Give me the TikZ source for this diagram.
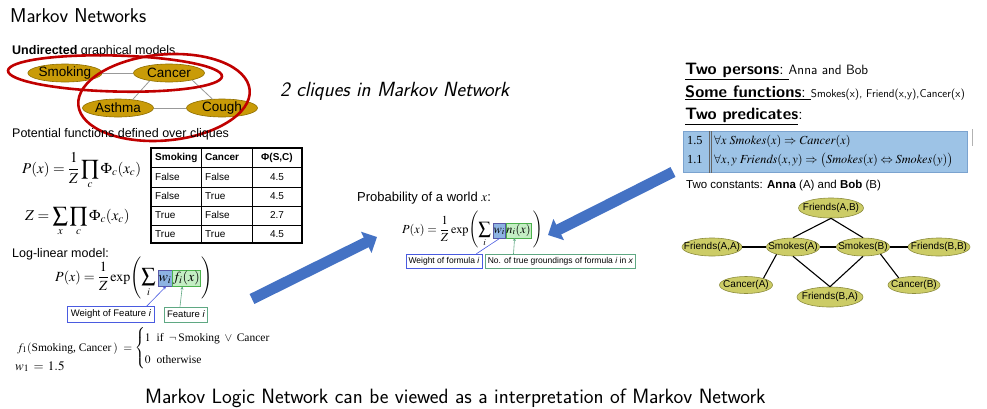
\documentclass[tikz,border=0pt]{standalone}
\usepackage{amsmath}
\usepackage{mathptmx}
\usepackage[no-math]{fontspec}
\setmainfont{Liberation Serif}
\newfontfamily\arial{Liberation Sans}
\usetikzlibrary{shapes.geometric,arrows.meta}

\newcommand\setfs[1]{\fontsize{#1}{#1}\selectfont}
\newcommand\zw[1]{\makebox[0pt]{#1}}

\definecolor{mgold}{HTML}{C99B08}
\definecolor{mgoldline}{HTML}{8E6E00}
\definecolor{cliquered}{HTML}{C00000}
\definecolor{folive}{HTML}{CCCC66}
\definecolor{foliveline}{HTML}{8C8C3C}
\definecolor{arrowblue}{HTML}{4472C4}
\definecolor{hlblue}{HTML}{8DB3E2}
\definecolor{hlgreen}{HTML}{C4EEC4}
\definecolor{labblue}{HTML}{4A5BE0}
\definecolor{labgreen}{HTML}{5FA883}
\definecolor{ruleblue}{HTML}{9DC3E6}
\definecolor{rulebluedark}{HTML}{7BA3CF}

\begin{document}
\begin{tikzpicture}[x=1pt,y=-1pt,
  txt/.style={anchor=base west, inner sep=0pt},
  mnnode/.style={ellipse, fill=mgold, draw=mgoldline, line width=0.6pt,
    minimum width=71pt, minimum height=18pt, inner sep=0pt, font=\arial\setfs{13.5}},
  mnedge/.style={draw=gray!80, line width=0.8pt},
  clique/.style={draw=cliquered, line width=2.6pt},
  fnode/.style={ellipse, fill=folive, draw=foliveline, line width=0.6pt,
    minimum height=18pt, inner sep=0pt, font=\arial\setfs{10}},
  mlnedge/.style={draw=black, line width=1.1pt},
  cell/.style={anchor=base west, inner sep=0pt, font=\arial\setfs{10}},
  hlw/.style={anchor=base west, fill=hlblue, draw=gray!70!blue, line width=0.4pt,
    inner xsep=0.6pt, inner ysep=0.8pt},
  hlf/.style={anchor=base west, fill=hlgreen, draw=gray!60!green, line width=0.4pt,
    inner xsep=0.6pt, inner ysep=0.8pt},
  wlab/.style={draw=labblue, line width=0.8pt, fill=white, inner xsep=3pt,
    minimum height=15pt, font=\arial\setfs{9.5}},
  flab/.style={draw=labgreen, line width=0.8pt, fill=white, inner xsep=3pt,
    minimum height=15pt, font=\arial\setfs{9.5}},
  wline/.style={draw=labblue, line width=0.6pt, -{Stealth[length=3pt,width=3pt]}},
  fline/.style={draw=labgreen, line width=0.6pt, -{Stealth[length=3pt,width=3pt]}},
  bigarrow/.style={draw=arrowblue, line width=11pt, -{Triangle[length=12pt,width=23pt]}},
  head/.style={anchor=base west, inner sep=0pt, font=\sffamily\setfs{16.5}}
]
\useasboundingbox (0,0) rectangle (987,408);

% ---------- Markov network ----------
\node[txt, font=\sffamily\setfs{20}] (title) at (10,22) {Markov Networks};
\node[txt, font=\arial\setfs{12.5}] (undir) at (12,54) {\textbf{Undirected} graphical models};

\node[mnnode] (smk) at (65,73) {Smoking};
\node[mnnode] (can) at (169,73) {Cancer};
\node[mnnode] (ast) at (118,108) {Asthma};
\node[mnnode] (cou) at (222,108) {Cough};
\draw[mnedge] (smk) -- (can);
\draw[mnedge] (can.202) -- (ast.30);
\draw[mnedge] (can.343) -- (cou.137);
\draw[mnedge] (ast) -- (cou);

\draw[clique, rotate around={-1.5:(115,73.5)}] (115,73.5) ellipse [x radius=107, y radius=18];
\draw[clique, rotate around={5:(164,97.5)}] (164,97.5) ellipse [x radius=86, y radius=43];

\node[txt, font=\sffamily\itshape\setfs{20.5}] (cliq) at (280,96) {2 cliques in Markov Network};

\node[txt, font=\arial\setfs{12.5}] (pot) at (12,137) {Potential functions defined over cliques};

\node[txt, font=\setfs{15}] (pfac) at (22,173) {$\displaystyle P(x)=\frac{1}{Z}\prod_c\Phi_c(x_c)$};
\node[txt, font=\setfs{15}] (zfac) at (25,220) {$\displaystyle Z=\sum_x\prod_c\Phi_c(x_c)$};

% potential table
\draw[line width=1.3pt] (151,148) rectangle (302,243);
\foreach \yy in {167,187,206,225} \draw[line width=0.8pt] (151,\yy) -- (302,\yy);
\foreach \xx in {201,252} \draw[line width=0.8pt] (\xx,148) -- (\xx,243);
\node[cell, font=\arial\bfseries\setfs{10}] (th1) at (155,160) {Smoking};
\node[cell, font=\arial\bfseries\setfs{10}] (th2) at (205,160) {Cancer};
\node[cell, font=\arial\bfseries\setfs{10}, anchor=base] (th3) at (277,160) {Φ(S,C)};
\node[cell] (a1) at (155,180) {False}; \node[cell] (b1) at (205,180) {False}; \node[cell, anchor=base] (c1) at (277,180) {4.5};
\node[cell] (a2) at (155,199) {False}; \node[cell] (b2) at (205,199) {True};  \node[cell, anchor=base] (c2) at (277,199) {4.5};
\node[cell] (a3) at (155,218) {True};  \node[cell] (b3) at (205,218) {False}; \node[cell, anchor=base] (c3) at (277,218) {2.7};
\node[cell] (a4) at (155,237) {True};  \node[cell] (b4) at (205,237) {True};  \node[cell, anchor=base] (c4) at (277,237) {4.5};

% log-linear model
\node[txt, font=\arial\setfs{12.5}] (loglin) at (12,257) {Log-linear model:};
\node[txt, font=\setfs{14}] (ll) at (55,281) {$\displaystyle P(x)=\frac{1}{Z}\exp\!\left(\sum_i\right.$};
\node[hlw, font=\setfs{14}, text height=10pt, text depth=4.5pt, xshift=0.5pt] (llw) at (ll.base east) {$w_i$};
\node[hlf, font=\setfs{14}, text height=10pt, text depth=4.5pt] (llf) at (llw.base east) {$f_i(x)$};
\node[txt, font=\setfs{14}] (llr) at (llf.base east) {$\displaystyle\left.\vphantom{\sum_i}\right)$};
\node[wlab] (llwl) at (111,314.5) {Weight of Feature \textit{i}};
\node[flab] (llfl) at (186,314.5) {Feature \textit{i}};
\draw[wline] ([xshift=-8pt]llwl.north east) -- ([xshift=1pt]llw.south);
\draw[fline] ([xshift=-6pt]llfl.north) -- ([xshift=-4pt]llf.south);

\node[txt, font=\fontsize{11.5}{18}\selectfont] (f1) at (17,351)
  {$f_1(\text{Smoking,\ Cancer\,})\ =\begin{cases}1\hspace{6pt}\text{if}\hspace{5pt}\neg\hspace{2pt}\text{Smoking}\hspace{3pt}\vee\hspace{3pt}\text{Cancer}\\ 0\hspace{6pt}\text{otherwise}\end{cases}$};
\node[txt, font=\setfs{13}] (w1) at (15,370) {$w_1\,=\,1.5$};

% ---------- arrows ----------
\coordinate (a1tail) at (252,299);
\coordinate (a1tip) at (377,237);
\coordinate (a2tail) at (673,172);
\coordinate (a2tip) at (548,235);
\draw[bigarrow] (a1tail) -- (a1tip);
\draw[bigarrow] (a2tail) -- (a2tip);

% ---------- world probability ----------
\node[txt, font=\arial\setfs{13}] (prob) at (357,201) {Probability of a world $x$:};
\node[txt, font=\setfs{12.3}] (pw) at (402,233) {$\displaystyle P(x)=\frac{1}{Z}\exp\!\left(\sum_i\right.$};
\node[hlw, font=\setfs{12.3}, text height=9pt, text depth=4pt, xshift=0.5pt] (pww) at (pw.base east) {$w_i$};
\node[hlf, font=\setfs{12.3}, text height=9pt, text depth=4pt] (pwn) at (pww.base east) {$n_i(x)$};
\node[txt, font=\setfs{12.3}] (pwr) at (pwn.base east) {$\displaystyle\left.\vphantom{\sum_i}\right)$};
\node[wlab, font=\arial\setfs{8.5}, minimum height=13pt, inner xsep=2.5pt] (pwwl) at (444,261.5) {Weight of formula \textit{i}};
\node[flab, font=\arial\setfs{8.5}, minimum height=13pt, inner xsep=2.5pt] (pwnl) at (560.5,261.5) {No. of true groundings of formula \textit{i} in \textit{x}};
\draw[draw=labblue, line width=0.6pt] ([xshift=-6pt]pwwl.north east) -- ([xshift=1pt]pww.south);
\draw[fline] ([xshift=-47pt]pwnl.north) -- ([xshift=-4pt]pwn.south);

% ---------- Markov logic network ----------
\node[head] (h1) at (685,74) {\underline{\textbf{Two persons}:\ }{\setfs{13.5}Anna and Bob}};
\node[head] (h2) at (685,97) {\underline{\textbf{Some functions}:\ }{\setfs{11.3}Smokes(x), Friend(x,y),Cancer(x)}};
\node[head] (h3) at (685,119) {\underline{\textbf{Two predicates}}:};

\node[draw=rulebluedark, fill=ruleblue, line width=0.6pt, minimum width=284pt, minimum height=41pt,
  inner sep=0pt, anchor=north west] (rules) at (683,131) {};
\draw[gray!80!black, line width=0.5pt] ([xshift=26pt]rules.north west) -- ([xshift=26pt]rules.south west);
\draw[gray!80!black, line width=0.5pt] ([xshift=28.5pt]rules.north west) -- ([xshift=28.5pt]rules.south west);
\draw[gray!60, line width=0.8pt] (972,129) -- (972,146);
\node[txt, font=\setfs{12.3}] (r1w) at (687,144) {1.5};
\node[txt, font=\setfs{12.3}] (r1) at (714,144) {$\forall x\ \mathit{Smokes}(x)\Rightarrow\mathit{Cancer}(x)$};
\node[txt, font=\setfs{12.3}] (r2w) at (687,163) {1.1};
\node[txt, font=\setfs{12.3}] (r2) at (714,163) {$\forall x,y\ \mathit{Friends}(x,y)\Rightarrow\bigl(\mathit{Smokes}(x)\Leftrightarrow\mathit{Smokes}(y)\bigr)$};

\node[txt, font=\arial\setfs{11.5}] (consts) at (686,188) {Two constants: \textbf{Anna} (A) and \textbf{Bob} (B)};

\node[fnode, minimum width=65pt, minimum height=20pt] (fab) at (831,208) {\zw{Friends(A,B)}};
\node[fnode, minimum width=60pt] (faa) at (712,247) {\zw{Friends(A,A)}};
\node[fnode, minimum width=53pt] (sa) at (793,247) {\zw{Smokes(A)}};
\node[fnode, minimum width=53pt] (sb) at (863,247) {\zw{Smokes(B)}};
\node[fnode, minimum width=62pt] (fbb) at (939,247) {\zw{Friends(B,B)}};
\node[fnode, minimum width=53pt, minimum height=17pt] (ca) at (746,285) {\zw{Cancer(A)}};
\node[fnode, minimum width=66pt, minimum height=20pt] (fba) at (830,297) {\zw{Friends(B,A)}};
\node[fnode, minimum width=52pt, minimum height=17pt] (cb) at (914,285) {\zw{Cancer(B)}};
\draw[mlnedge] (fab.south) -- (sa.north);
\draw[mlnedge] (fab.south) -- (sb.north);
\draw[mlnedge] (faa) -- (sa);
\draw[mlnedge] (sa) -- (sb);
\draw[mlnedge] (sb) -- (fbb);
\draw[mlnedge] (sa.south) -- (fba.north);
\draw[mlnedge] (sb.south) -- (fba.north);
\draw[mlnedge] (sa.204) -- (ca.21);
\draw[mlnedge] (sb.338) -- (cb.155);

% ---------- conclusion ----------
\node[txt, font=\sffamily\setfs{20.7}] (concl) at (145,403) {Markov Logic Network can be viewed as a interpretation of Markov Network};
\end{tikzpicture}
\end{document}
